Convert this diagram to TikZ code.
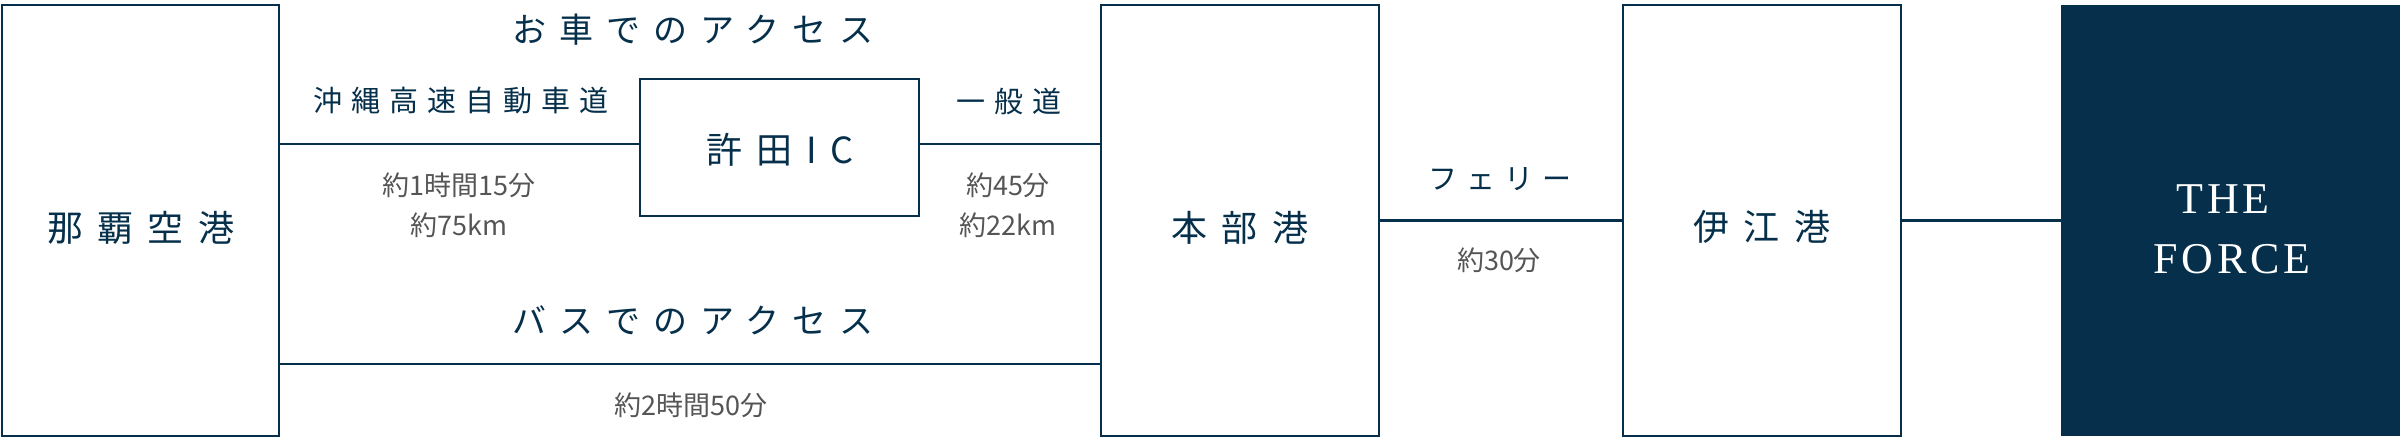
\documentclass[tikz,border=0pt]{standalone}
\usepackage{fontspec}
\setmainfont{Liberation Serif}
\newfontfamily\jptitle[LetterSpace=38]{Noto Sans CJK JP}
\newfontfamily\jpmid[LetterSpace=31]{Noto Sans CJK JP}
\newfontfamily\jpbig[LetterSpace=39]{Noto Sans CJK JP}
\newfontfamily\jpplain{Noto Sans CJK JP}
\newfontfamily\forcefont[LetterSpace=9]{Liberation Serif}
\definecolor{navy}{HTML}{052F4A}
\definecolor{txtgray}{HTML}{555555}
\tikzset{
  box/.style={draw=navy, line width=1pt, inner sep=0pt, outer sep=0pt, fill=white},
  conn/.style={draw=navy, line width=1.2pt},
  titletxt/.style={text=navy, font=\fontsize{17}{20}\selectfont\jptitle, inner sep=0pt},
  midtxt/.style={text=navy, font=\fontsize{14.5}{18}\selectfont\jpmid, inner sep=0pt},
  bigtxt/.style={text=navy, font=\fontsize{18}{22}\selectfont\jpbig, inner sep=0pt},
  timetxt/.style={text=txtgray, font=\fontsize{13.5}{20}\selectfont\jpplain, inner sep=0pt, align=center},
}
\begin{document}
\begin{tikzpicture}[x=0.5pt,y=-0.5pt]
\useasboundingbox (0,0) rectangle (2400,438);
% boxes
\node[box, minimum width=138.5pt, minimum height=215.5pt] (naha) at (140.5,220.5) {};
\node[box, minimum width=139.5pt, minimum height=68.75pt] (ic) at (779.5,147.75) {};
\node[box, minimum width=139pt, minimum height=215.5pt] (motobu) at (1240,220.5) {};
\node[box, minimum width=139pt, minimum height=215.5pt] (ie) at (1762,220.5) {};
\node[fill=navy, inner sep=0pt, outer sep=0pt, minimum width=169.5pt, minimum height=215.5pt] (force) at (2230.5,220.5) {};
% connector levels
\coordinate (carY) at (0,144);
\coordinate (busY) at (0,364);
\draw[conn] (naha.east |- carY) -- (ic.west |- carY);
\draw[conn] (ic.east |- carY) -- (motobu.west |- carY);
\draw[conn] (naha.east |- busY) -- (motobu.west |- busY);
\draw[conn] (motobu.east) -- (ie.west);
\draw[conn] (ie.east) -- (force.west);
% box labels
\node[bigtxt] (nahaT) at (141,228) {那覇空港};
\node[bigtxt] (icT) at (780,150) {許田IC};
\node[bigtxt] (motobuT) at (1240,228) {本部港};
\node[bigtxt] (ieT) at (1762,227) {伊江港};
\node[text=white, font=\fontsize{22}{30}\selectfont\forcefont, align=center, inner sep=0pt] (forceT) at (2232,229) {THE\kern9pt\\FORCE};
% titles
\node[titletxt] (carT) at (693,30) {お車でのアクセス};
\node[titletxt] (busT) at (693,320) {バスでのアクセス};
% route labels
\node[midtxt] (hwT) at (461,101) {沖縄高速自動車道};
\node[midtxt] (ippanT) at (1009,102) {一般道};
\node[midtxt] (ferryT) at (1500,179) {フェリー};
% times
\node[timetxt] (t1) at (459,205) {約1時間15分\\約75km};
\node[timetxt] (t2) at (1008,205) {約45分\\約22km};
\node[timetxt] (t3) at (1499,260) {約30分};
\node[timetxt] (t4) at (691,405) {約2時間50分};
\end{tikzpicture}
\end{document}
